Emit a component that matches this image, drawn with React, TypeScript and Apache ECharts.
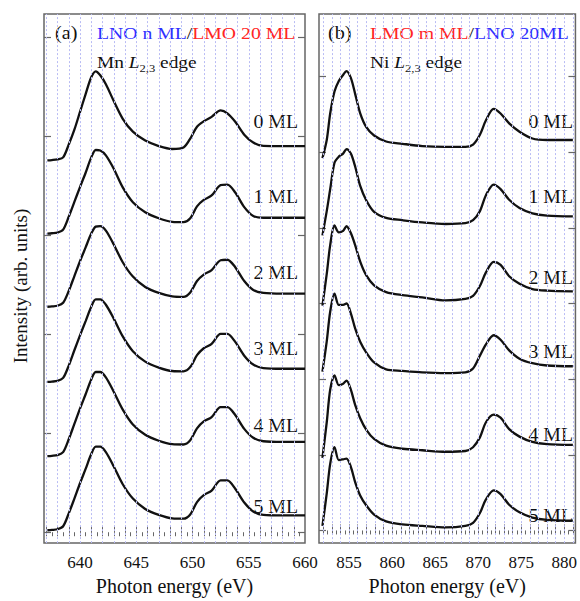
import React, { useEffect, useRef } from 'react';
import * as echarts from 'echarts';

// ---------- Panel (a): Mn L2,3 edge ----------
const mnEnergy = [637.1, 637.5, 638.0, 638.5, 639.0, 639.5, 640.0, 640.5, 641.0, 641.4, 641.8, 642.3, 643.0, 643.8, 644.7, 645.8, 647.0, 648.2, 649.2, 649.8, 650.4, 651.0, 651.7, 652.5, 653.1, 653.8, 654.6, 655.4, 656.3, 658.0, 660.0];
const mn0 = [0, 0.3, 1, 3, 16, 31, 49, 67, 84, 90, 86, 77, 60, 42, 29, 20, 14.5, 11.5, 13, 22, 34, 39.5, 44, 50.5, 47.5, 39, 26, 18, 14.7, 14.5, 14.5];
const mn1 = [0, 0.3, 1, 4, 17, 32, 47, 61.5, 77, 84.5, 84, 79, 65.5, 46.7, 31.7, 21.5, 15.5, 11.8, 11.5, 15.5, 27.5, 34, 38.5, 49, 49.5, 41.5, 26.7, 17.8, 16, 16, 16];
const mn2 = [0, 0.3, 1, 4, 16, 31, 46, 60, 74, 81, 81.5, 77, 63, 45, 30.5, 20, 14, 10.5, 10, 14.5, 26, 32.5, 37, 47, 47.5, 40, 26, 17, 14, 13.3, 13.3];
const mn3 = [0, 0.3, 1, 4, 16.5, 32, 47, 61.5, 76, 83.5, 83.5, 78, 64, 46, 31, 20.5, 14.5, 11, 10.7, 15, 27, 34, 38.5, 48.5, 48.5, 40.5, 26.5, 17.5, 14, 13.3, 13.3];
const mn4 = [0, 0.3, 1, 4, 17, 32.5, 48, 62.5, 77.5, 85, 85, 79.5, 65, 47, 32, 21.5, 15.5, 12, 11.7, 16, 28, 35, 39.5, 49.5, 49.5, 41.5, 27.5, 18.5, 15, 14.3, 14.3];
const mn5 = [0, 0.3, 1, 4, 17, 32, 47.5, 62, 77, 84.5, 84.5, 79, 64.5, 46.5, 32, 21.5, 15.5, 12, 11.7, 16, 28.5, 35.5, 40, 50.5, 50.5, 42, 28, 19, 15.5, 15, 15];
const mnOffsets = [376, 302, 228, 152, 77, 2];
const mnXLabels = [640, 645, 650, 655, 660];
const mnYTicks = [0, 100, 200, 300, 400, 500];

// ---------- Panel (b): Ni L2,3 edge ----------
const niEnergy = [851.9, 852.4, 852.8, 853.3, 853.8, 854.3, 854.7, 855.2, 855.7, 856.3, 857.0, 857.9, 859.3, 861.2, 863.5, 866.2, 868.5, 869.4, 870.2, 870.9, 871.8, 872.6, 873.6, 874.8, 876.3, 878.0, 881.0];
const ni0 = [-8, 16, 51, 80, 94, 102, 107, 98, 77, 51, 33, 22, 14, 11, 8, 7, 7, 10, 23, 42, 57, 51, 38, 27, 18, 16, 16];
const ni1 = [-10, 22, 51, 86, 94, 98, 104, 98, 81, 55, 36, 21, 13, 10, 7, 5, 6, 10, 22, 43, 57, 51, 37, 26, 19, 16, 15];
const ni2 = [-3, 39, 77, 103, 94, 96, 102, 93, 77, 55, 37, 24, 15, 11, 8, 4, 6, 10, 23, 41, 55, 51, 36, 26, 19, 17, 16];
const ni3 = [10, 50, 89, 113, 98, 98, 100, 87, 67, 49, 35, 22, 13, 11, 9, 8, 9, 14, 31, 46, 58, 52, 38, 27, 21, 18, 17];
const ni4 = [-4, 43, 86, 105, 92, 94, 98, 86, 66, 48, 33, 21, 12, 8, 6, 4, 5, 10, 23, 43, 53, 49, 34, 24, 17, 14, 13];
const ni5 = [6, 49, 88, 110, 93, 94, 95, 84, 64, 46, 33, 21, 12, 8, 6, 4, 6, 10, 23, 41, 53, 48, 34, 24, 17, 14, 13];
const niOffsets = [500, 400, 300, 200, 100, 0];
const niXLabels = [855, 860, 865, 870, 875, 880];
const niYTicks = [0, 100, 200, 300, 400, 500, 600];

const layerLabels = ['0 ML', '1 ML', '2 ML', '3 ML', '4 ML', '5 ML'];

const FONT = 'Liberation Serif, Times New Roman, serif';
const FRAME = '#666666';

function range(a: number, b: number, step: number) {
  const out: number[] = [];
  for (let v = a; v <= b + 1e-9; v += step) out.push(Math.round(v * 100) / 100);
  return out;
}

export default function App() {
  const ref = useRef<HTMLDivElement>(null);

  useEffect(() => {
    const chart = echarts.init(ref.current!, null, { renderer: 'svg' });

    const mnCurves = [mn0, mn1, mn2, mn3, mn4, mn5];
    const niCurves = [ni0, ni1, ni2, ni3, ni4, ni5];

    const mnTopTicks = range(637, 659.5, 0.5);
    const niTopTicks = range(852, 881, 0.5);
    const mnGrid = range(637, 659, 1);
    const niGrid = range(852, 881, 1);

    const xBase = (gridIndex: number, min: number, max: number, ticks: number[], labels: number[] | null, position: 'bottom' | 'top') => ({
      type: 'value',
      gridIndex,
      position,
      min,
      max,
      axisLine: { show: false },
      splitLine: { show: false },
      axisTick: {
        show: true,
        inside: true,
        length: labels ? 6 : 4,
        customValues: ticks,
        lineStyle: { color: FRAME, width: 1 },
      },
      axisLabel: labels
        ? {
            show: true,
            customValues: labels,
            fontFamily: FONT,
            fontSize: 17,
            color: '#111',
            margin: 11,
          }
        : { show: false },
      name: labels ? 'Photon energy (eV)' : '',
      nameLocation: 'middle',
      nameGap: 32,
      nameTextStyle: { fontFamily: FONT, fontSize: 20, color: '#111' },
    });

    const yBase = (gridIndex: number, min: number, max: number, ticks: number[], position: 'left' | 'right') => ({
      type: 'value',
      gridIndex,
      position,
      min,
      max,
      axisLine: { show: false },
      splitLine: { show: false },
      axisLabel: { show: false },
      axisTick: {
        show: true,
        inside: true,
        length: 7,
        customValues: ticks,
        lineStyle: { color: FRAME, width: 1.2 },
      },
    });

    const gridLineSeries = (xAxisIndex: number, yAxisIndex: number, values: number[]) => ({
      type: 'line',
      xAxisIndex,
      yAxisIndex,
      data: [],
      silent: true,
      z: 1,
      markLine: {
        silent: true,
        symbol: ['none', 'none'],
        label: { show: false },
        lineStyle: { color: '#b9bcf4', type: [2, 2], width: 1 },
        data: values.map((v) => ({ xAxis: v })),
      },
    });

    const curveSeries = (xAxisIndex: number, yAxisIndex: number, energy: number[], vals: number[], offset: number) => ({
      type: 'line',
      xAxisIndex,
      yAxisIndex,
      data: energy.map((e, i) => [e, vals[i] + offset]),
      symbol: 'none',
      smooth: 0.3,
      z: 3,
      lineStyle: { color: '#111', width: 2.3 },
      silent: true,
    });

    const series: any[] = [
      gridLineSeries(0, 0, mnGrid),
      gridLineSeries(2, 2, niGrid),
      ...mnCurves.map((c, i) => curveSeries(0, 0, mnEnergy, c, mnOffsets[i])),
      ...niCurves.map((c, i) => curveSeries(2, 2, niEnergy, c, niOffsets[i])),
    ];

    const textStyle = (extra: any) => ({
      fontFamily: FONT,
      fontSize: 17,
      fill: '#111',
      ...extra,
    });

    const mnLabelY = [122, 197, 273, 349, 426, 507];
    const niLabelY = [122, 197, 278, 352, 435, 516];

    const subRich = {
      i: { fontStyle: 'italic', fontFamily: FONT, fontSize: 17, lineHeight: 24, fill: '#111' },
      s: { fontFamily: FONT, fontSize: 11, lineHeight: 12, verticalAlign: 'bottom', fill: '#111' },
    };
    const colorRich = {
      b: { fill: '#2f2fff', fontFamily: FONT, fontSize: 17 },
      k: { fill: '#111', fontFamily: FONT, fontSize: 17 },
      r: { fill: '#ff2525', fontFamily: FONT, fontSize: 17 },
    };

    const graphic: any[] = [
      { type: 'text', x: 55, y: 33, scaleX: 1.12, style: textStyle({ text: '(a)', verticalAlign: 'middle', fontSize: 18 }) },
      {
        type: 'text', x: 97, y: 33, scaleX: 1.16,
        style: textStyle({ text: '{b|LNO n ML}{k|/}{r|LMO 20 ML}', verticalAlign: 'middle', rich: colorRich }),
      },
      {
        type: 'text', x: 97, y: 62, scaleX: 1.14,
        style: textStyle({ text: 'Mn {i|L}{s|2,3} edge', verticalAlign: 'middle', lineHeight: 24, rich: subRich }),
      },
      { type: 'text', x: 328, y: 33, scaleX: 1.12, style: textStyle({ text: '(b)', verticalAlign: 'middle', fontSize: 18 }) },
      {
        type: 'text', x: 370, y: 33, scaleX: 1.16,
        style: textStyle({ text: '{r|LMO m ML}{k|/}{b|LNO 20ML}', verticalAlign: 'middle', rich: colorRich }),
      },
      {
        type: 'text', x: 370, y: 62, scaleX: 1.14,
        style: textStyle({ text: 'Ni {i|L}{s|2,3} edge', verticalAlign: 'middle', lineHeight: 24, rich: subRich }),
      },
      {
        type: 'text', x: 20, y: 286, rotation: Math.PI / 2,
        style: textStyle({ text: 'Intensity (arb. units)', align: 'center', verticalAlign: 'middle', fontSize: 19 }),
      },
      ...layerLabels.map((t, i) => ({
        type: 'text', x: 298, y: mnLabelY[i], scaleX: 1.1,
        style: textStyle({ text: t, align: 'right', verticalAlign: 'middle', fontSize: 18 }),
      })),
      ...layerLabels.map((t, i) => ({
        type: 'text', x: 573, y: niLabelY[i], scaleX: 1.1,
        style: textStyle({ text: t, align: 'right', verticalAlign: 'middle', fontSize: 18 }),
      })),
    ];

    const option: any = {
      animation: false,
      backgroundColor: '#ffffff',
      textStyle: { fontFamily: FONT },
      grid: [
        { left: 44, top: 14, width: 261, height: 544, show: true, borderColor: FRAME, borderWidth: 1.5, backgroundColor: 'transparent', containLabel: false },
        { left: 319, top: 14, width: 259, height: 544, show: true, borderColor: FRAME, borderWidth: 1.5, backgroundColor: 'transparent', containLabel: false },
      ],
      xAxis: [
        xBase(0, 636.8, 660, mnGrid, mnXLabels, 'bottom'),
        xBase(0, 636.8, 660, mnTopTicks, null, 'top'),
        xBase(1, 851.5, 881.3, niGrid, niXLabels, 'bottom'),
        xBase(1, 851.5, 881.3, niTopTicks, null, 'top'),
      ],
      yAxis: [
        yBase(0, -11, 524, mnYTicks, 'left'),
        yBase(0, -11, 524, mnYTicks, 'right'),
        yBase(1, -16.7, 682.5, niYTicks, 'left'),
        yBase(1, -16.7, 682.5, niYTicks, 'right'),
      ],
      series,
      graphic,
    };

    chart.setOption(option);
    return () => chart.dispose();
  }, []);

  return (
    <div
      ref={ref}
      style={{ position: 'absolute', left: 0, top: 0, width: 580, height: 601, background: '#fff' }}
    />
  );
}
